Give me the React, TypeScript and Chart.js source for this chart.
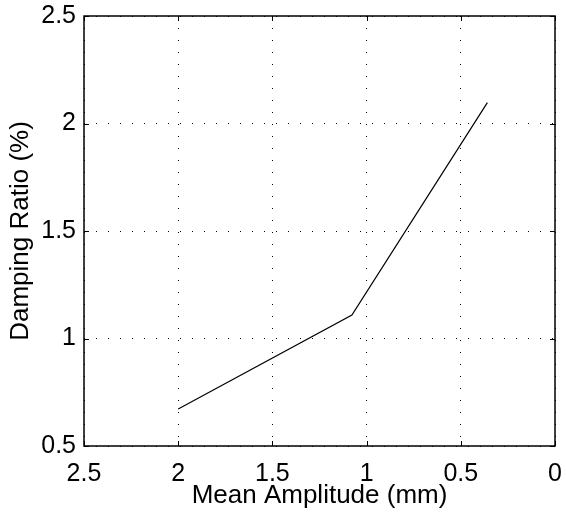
import React, { useEffect, useRef } from 'react';
import { Chart, registerables } from 'chart.js';

Chart.register(...registerables);

const amplitudes = [2.0, 1.078, 0.359];
const dampingRatios = [0.672, 1.109, 2.097];
const xTicks = [2.5, 2, 1.5, 1, 0.5, 0];
const yTicks = [0.5, 1, 1.5, 2, 2.5];
const xTitle = 'Mean Amplitude (mm)';
const yTitle = 'Damping Ratio (%)';

const FONT = "'Liberation Sans', Arial, Helvetica, sans-serif";

const framePlugin = {
  id: 'frame',
  afterDraw(chart: any) {
    const { ctx, chartArea, scales } = chart;
    const { left, right, top, bottom } = chartArea;
    const x = scales.x;
    const y = scales.y;
    ctx.save();
    ctx.strokeStyle = '#000';
    ctx.lineWidth = 1.5;
    ctx.strokeRect(left, top, right - left, bottom - top);
    ctx.lineWidth = 1;
    const tl = 5;
    ctx.beginPath();
    for (const v of xTicks) {
      const px = Math.round(x.getPixelForValue(v)) + 0.5;
      ctx.moveTo(px, bottom);
      ctx.lineTo(px, bottom - tl);
      ctx.moveTo(px, top);
      ctx.lineTo(px, top + tl);
    }
    for (const v of yTicks) {
      const py = Math.round(y.getPixelForValue(v)) + 0.5;
      ctx.moveTo(left, py);
      ctx.lineTo(left + tl, py);
      ctx.moveTo(right, py);
      ctx.lineTo(right - tl, py);
    }
    ctx.stroke();
    ctx.restore();
  },
};

const zeroPad = (s: any) => {
  s.paddingTop = 0;
  s.paddingBottom = 0;
  s.paddingLeft = 0;
  s.paddingRight = 0;
};

export default function App() {
  const canvasRef = useRef<HTMLCanvasElement | null>(null);

  useEffect(() => {
    const canvas = canvasRef.current;
    if (!canvas) return;
    const chart = new Chart(canvas, {
      type: 'scatter',
      data: {
        datasets: [
          {
            data: amplitudes.map((a, i) => ({ x: a, y: dampingRatios[i] })),
            showLine: true,
            borderColor: '#000',
            borderWidth: 1.2,
            pointRadius: 0,
            pointHoverRadius: 0,
            fill: false,
            tension: 0,
          },
        ],
      },
      options: {
        responsive: false,
        animation: false,
        events: [],
        layout: { padding: { top: 16, right: 11, left: 0, bottom: 0 } },
        plugins: {
          legend: { display: false },
          tooltip: { enabled: false },
        },
        scales: {
          x: {
            type: 'linear',
            min: 0,
            max: 2.5,
            reverse: true,
            afterBuildTicks: (s: any) => {
              s.ticks = xTicks.map((v) => ({ value: v }));
            },
            afterFit: (s: any) => {
              s.height = 75;
              zeroPad(s);
            },
            grid: { color: '#000', lineWidth: 1, drawTicks: false },
            border: { display: false, dash: [1, 11] },
            ticks: {
              color: '#000',
              padding: 13,
              maxRotation: 0,
              autoSkip: false,
              font: { family: FONT, size: 25 },
              callback: (v: any) => String(v),
            },
            title: {
              display: true,
              text: xTitle,
              color: '#000',
              font: { family: FONT, size: 26 },
              padding: { top: 0, bottom: 10 },
            },
          },
          y: {
            type: 'linear',
            min: 0.5,
            max: 2.5,
            afterBuildTicks: (s: any) => {
              s.ticks = yTicks.map((v) => ({ value: v }));
            },
            afterFit: (s: any) => {
              s.width = 84;
              zeroPad(s);
            },
            grid: { color: '#000', lineWidth: 1, drawTicks: false },
            border: { display: false, dash: [1, 11] },
            ticks: {
              color: '#000',
              padding: 8,
              autoSkip: false,
              font: { family: FONT, size: 25 },
              callback: (v: any) => String(v),
            },
            title: {
              display: true,
              text: yTitle,
              color: '#000',
              font: { family: FONT, size: 26 },
              padding: { top: 5, bottom: 0 },
            },
          },
        },
      },
      plugins: [framePlugin],
    });
    return () => chart.destroy();
  }, []);

  return (
    <div style={{ position: 'fixed', left: 0, top: 0, width: 566, height: 521, background: '#fff' }}>
      <canvas ref={canvasRef} width={566} height={521} style={{ display: 'block', width: 566, height: 521 }} />
    </div>
  );
}
